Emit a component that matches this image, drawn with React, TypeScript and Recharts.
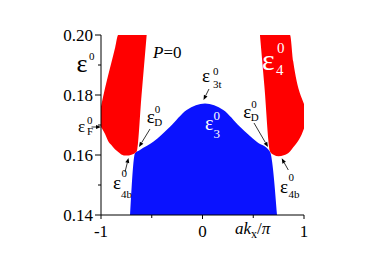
import React from "react";
import { ComposedChart, Area, XAxis, YAxis, ReferenceLine, ReferenceDot } from "recharts";

const FONT = "'Liberation Serif', 'Times New Roman', serif";

// band eps3 (blue): lower / upper edge along ak_x/pi
const band3X = [-0.714, -0.665, -0.616, -0.485, -0.32, -0.156, 0.025, 0.205, 0.369, 0.534, 0.665, 0.734];
const band3Lo = [0.14, 0.14, 0.14, 0.14, 0.14, 0.14, 0.14, 0.14, 0.14, 0.14, 0.14, 0.14];
const band3Hi = [0.14, 0.1606, 0.1617, 0.1644, 0.1694, 0.175, 0.1772, 0.175, 0.1694, 0.1644, 0.1611, 0.14];

// band eps4 (red), left branch
const band4LX = [-1.0, -0.96, -0.93, -0.9, -0.86, -0.83, -0.8, -0.75, -0.7, -0.648, -0.6, -0.55];
const band4LLo = [0.1693, 0.167, 0.1647, 0.1634, 0.1618, 0.161, 0.1602, 0.1598, 0.1601, 0.1612, 0.1802, 0.2];
const band4LHi = [0.1762, 0.1823, 0.1865, 0.1905, 0.1959, 0.2, 0.2, 0.2, 0.2, 0.2, 0.2, 0.2];

// band eps4 (red), right branch
const band4RX = [0.566, 0.61, 0.665, 0.7, 0.75, 0.8, 0.862, 0.894, 0.928, 0.977, 1.0];
const band4RLo = [0.2, 0.1828, 0.1612, 0.1601, 0.1596, 0.1599, 0.1612, 0.1626, 0.164, 0.1668, 0.1688];
const band4RHi = [0.2, 0.2, 0.2, 0.2, 0.2, 0.2, 0.2, 0.1912, 0.1846, 0.179, 0.177];

const xTicks = [-1, -0.5, 0, 0.5, 1];
const xTickLabels = ["-1", "", "0", "", "1"];
const yTicks = [0.14, 0.15, 0.16, 0.17, 0.18, 0.19, 0.2];
const yTickLabels = ["0.14", "", "0.16", "", "0.18", "", "0.20"];

const toRows = (xs: number[], lo: number[], hi: number[]) =>
  xs.map((x, i) => ({ x, range: [lo[i], hi[i]] }));

const band3 = toRows(band3X, band3Lo, band3Hi);
const band4L = toRows(band4LX, band4LLo, band4LHi);
const band4R = toRows(band4RX, band4RLo, band4RHi);

// epsilon labels: (x, y) = baseline-left of the epsilon, in data units
const labels = [
  { x: -1.2414, y: 0.18783, sub: "", size: 26, small: 11, supDx: 12.5, supDy: -11.5, subDx: 0, subDy: 0, color: "#000" },
  { x: -1.2266, y: 0.16783, sub: "F", size: 17, small: 11, supDx: 9, supDy: -8, subDx: 9, subDy: 3.5, color: "#000" },
  { x: -0.5498, y: 0.17057, sub: "D", size: 19, small: 11, supDx: 8, supDy: -10.5, subDx: 7.5, subDy: 3, color: "#000" },
  { x: 0.402, y: 0.17217, sub: "D", size: 19, small: 11, supDx: 8, supDy: -10.5, subDx: 7.5, subDy: 3, color: "#000" },
  { x: -0.0049, y: 0.1845, sub: "3t", size: 19, small: 11, supDx: 11, supDy: -7, subDx: 11, subDy: 6, color: "#000" },
  { x: 0.0246, y: 0.16833, sub: "3", size: 20, small: 13, supDx: 8.5, supDy: -10, subDx: 8.5, subDy: 8, color: "#fff" },
  { x: 0.5862, y: 0.1885, sub: "4", size: 30, small: 15, supDx: 15, supDy: -16.5, subDx: 14, subDy: 5, color: "#fff" },
  { x: -0.8818, y: 0.14867, sub: "4b", size: 19, small: 11, supDx: 8.5, supDy: -11.5, subDx: 8, subDy: 9, color: "#000" },
  { x: 0.7635, y: 0.14733, sub: "4b", size: 19, small: 11, supDx: 8.5, supDy: -12, subDx: 8.5, subDy: 5, color: "#000" },
];

// arrows: from (x1, y1) to the arrow head at (x2, y2)
const arrows = [
  { x1: -1.0936, y1: 0.16933, x2: -1.0, y2: 0.16933 },
  { x1: -0.5172, y1: 0.16867, x2: -0.6256, y2: 0.16267 },
  { x1: 0.5074, y1: 0.17067, x2: 0.6453, y2: 0.16267 },
  { x1: 0.064, y1: 0.182, x2: 0.0099, y2: 0.17833 },
  { x1: -0.7635, y1: 0.15433, x2: -0.7291, y2: 0.159 },
  { x1: 0.8453, y1: 0.155, x2: 0.7803, y2: 0.1589 },
];

function EpsLabel(l: (typeof labels)[number]) {
  return (props: any) => {
    const { cx, cy } = props;
    return (
      <g fontFamily={FONT} fill={l.color}>
        <text x={cx} y={cy} fontSize={l.size}>ε</text>
        <text x={cx + l.supDx} y={cy + l.supDy} fontSize={l.small}>0</text>
        {l.sub && (
          <text x={cx + l.subDx} y={cy + l.subDy} fontSize={l.small}>{l.sub}</text>
        )}
      </g>
    );
  };
}

function Arrow(props: any) {
  const { x1, y1, x2, y2 } = props;
  const a = Math.atan2(y2 - y1, x2 - x1);
  const L = 5;
  const W = 2;
  const bx = x2 - L * Math.cos(a);
  const by = y2 - L * Math.sin(a);
  const px = -Math.sin(a) * W;
  const py = Math.cos(a) * W;
  return (
    <g>
      <line x1={x1} y1={y1} x2={bx} y2={by} stroke="#000" strokeWidth={0.8} />
      <polygon points={`${x2},${y2} ${bx + px},${by + py} ${bx - px},${by - py}`} fill="#000" />
    </g>
  );
}

function LeftTick({ x, y, index }: any) {
  const lab = yTickLabels[index];
  return (
    <g>
      <line x1={x - (lab ? 6 : 3)} x2={x} y1={y} y2={y} stroke="#000" />
      {lab && (
        <text x={x - 8} y={y + 6} textAnchor="end" fontFamily={FONT} fontSize={17} fill="#000">
          {lab}
        </text>
      )}
    </g>
  );
}

function RightTick({ x, y, index }: any) {
  const major = yTickLabels[index] !== "";
  return <line x1={x - (major ? 4 : 3)} x2={x} y1={y} y2={y} stroke="#000" />;
}

function BottomTick({ x, y, index }: any) {
  const lab = xTickLabels[index];
  return (
    <g>
      <line x1={x} x2={x} y1={y} y2={y + (lab ? 4 : 3)} stroke="#000" />
      {lab && (
        <text x={x} y={y + 22} textAnchor="middle" fontFamily={FONT} fontSize={17} fill="#000">
          {lab}
        </text>
      )}
    </g>
  );
}

function TopTick({ x, y, index }: any) {
  if (index === 0 || index === xTicks.length - 1) return <g />;
  const major = xTickLabels[index] !== "";
  return <line x1={x} x2={x} y1={y} y2={y + (major ? 5 : 4)} stroke="#000" />;
}

function AxisTitle(props: any) {
  const { cx, cy } = props;
  return (
    <text x={cx} y={cy} fontFamily={FONT} fontSize={17} fill="#000">
      <tspan fontStyle="italic">ak</tspan>
      <tspan fontSize={12} dy={4}>x</tspan>
      <tspan dy={-4}>/</tspan>
      <tspan fontStyle="italic">π</tspan>
    </text>
  );
}

function PLabel(props: any) {
  const { cx, cy } = props;
  return (
    <text x={cx} y={cy} fontFamily={FONT} fontSize={17} fill="#000">
      <tspan fontStyle="italic">P</tspan>=0
    </text>
  );
}

export default function App() {
  return (
    <div style={{ position: "absolute", left: 0, top: 0, background: "#fff" }}>
      <ComposedChart width={382} height={267} margin={{ top: 35, right: 78, bottom: 0, left: 0 }}>
        <XAxis
          type="number"
          dataKey="x"
          domain={[-1, 1]}
          allowDataOverflow
          ticks={xTicks}
          interval={0}
          height={52}
          tickSize={0}
          tickMargin={0}
          tickLine={false}
          axisLine={{ stroke: "#000" }}
          tick={<BottomTick />}
        />
        <XAxis
          xAxisId="top"
          orientation="top"
          type="number"
          domain={[-1, 1]}
          allowDataOverflow
          ticks={xTicks}
          interval={0}
          height={0}
          tickSize={0}
          tickMargin={0}
          tickLine={false}
          axisLine={{ stroke: "#000" }}
          tick={<TopTick />}
        />
        <YAxis
          type="number"
          domain={[0.14, 0.2]}
          allowDataOverflow
          ticks={yTicks}
          interval={0}
          width={101}
          tickSize={0}
          tickMargin={0}
          tickLine={false}
          axisLine={{ stroke: "#000" }}
          tick={<LeftTick />}
        />
        <YAxis
          yAxisId="right"
          orientation="right"
          type="number"
          domain={[0.14, 0.2]}
          allowDataOverflow
          ticks={yTicks}
          interval={0}
          width={0}
          tickSize={0}
          tickMargin={0}
          tickLine={false}
          axisLine={{ stroke: "#000" }}
          tick={<RightTick />}
        />
        <Area data={band3} dataKey="range" type="monotone" stroke="none" fill="#0a12ff" fillOpacity={1} isAnimationActive={false} dot={false} activeDot={false} />
        <Area data={band4L} dataKey="range" type="monotone" stroke="none" fill="#ff0000" fillOpacity={1} isAnimationActive={false} dot={false} activeDot={false} />
        <Area data={band4R} dataKey="range" type="monotone" stroke="none" fill="#ff0000" fillOpacity={1} isAnimationActive={false} dot={false} activeDot={false} />
        {arrows.map((a, i) => (
          <ReferenceLine
            key={"a" + i}
            segment={[{ x: a.x1, y: a.y1 }, { x: a.x2, y: a.y2 }]}
            ifOverflow="visible"
            shape={Arrow}
          />
        ))}
        {labels.map((l, i) => (
          <ReferenceDot key={"l" + i} x={l.x} y={l.y} ifOverflow="visible" shape={EpsLabel(l)} />
        ))}
        <ReferenceDot x={-0.4877} y={0.19233} ifOverflow="visible" shape={PLabel} />
        <ReferenceDot x={0.3202} y={0.13383} ifOverflow="visible" shape={AxisTitle} />
      </ComposedChart>
    </div>
  );
}
